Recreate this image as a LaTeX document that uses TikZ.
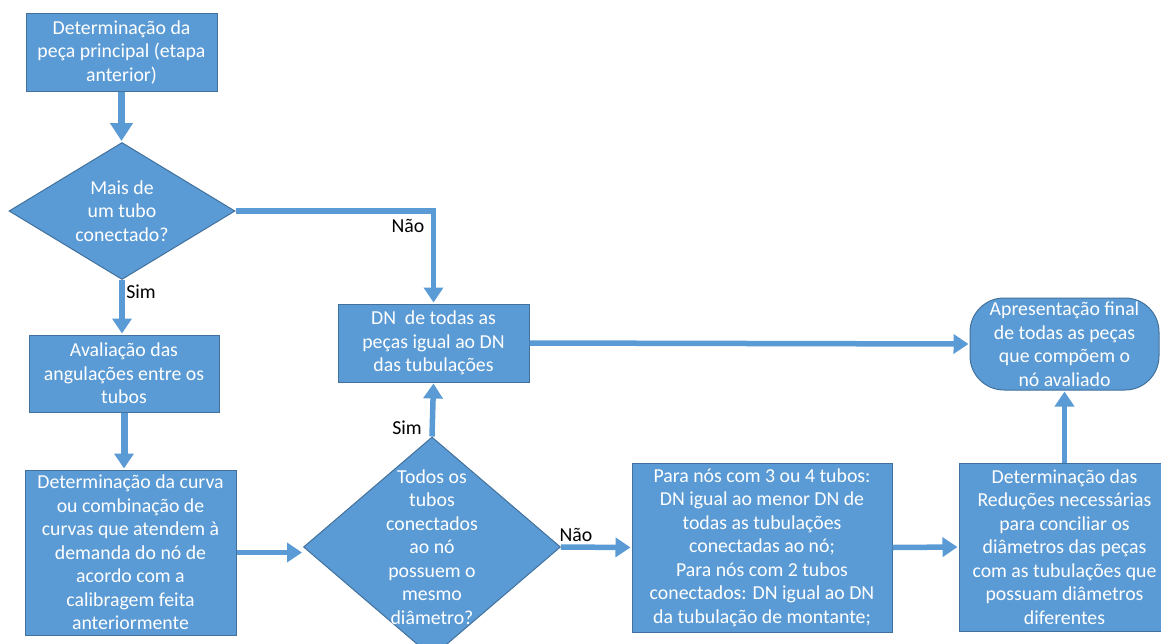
\documentclass[tikz,border=0pt]{standalone}
\usepackage{fontspec}
\setmainfont{Carlito}
\usetikzlibrary{shapes.geometric,arrows.meta,calc}
\definecolor{fillblue}{HTML}{5B9BD5}
\definecolor{edgeblue}{HTML}{41719C}
\begin{document}
\begin{tikzpicture}[x=1pt,y=-1pt,
  txt/.style={font=\fontsize{19.8}{23.5}\selectfont},
  box/.style={txt, draw=edgeblue, line width=1pt, fill=fillblue, text=white,
    align=center, inner sep=0pt},
  dia/.style={shape=diamond, draw=edgeblue, line width=1pt, fill=fillblue, inner sep=0pt},
  diatext/.style={txt, text=white, align=center, inner sep=0pt},
  term/.style={box, rounded corners=34pt},
  lbl/.style={txt, text=black, inner sep=0pt},
  conn/.style={draw=fillblue, line width=5.5pt,
    -{Triangle[width=19pt,length=15pt]}, shorten >=1pt}
]
\useasboundingbox (0,0) rectangle (1161,643);
\clip (0,0) rectangle (1161,643);

% nodes
\node[box, minimum width=191pt, minimum height=78pt] (b1) at (121.5,52)
  {Determinação da\\peça principal (etapa\\anterior)};
\node[dia, minimum width=226pt, minimum height=137pt] (d1) at (122,211) {};
\node[diatext] (d1t) at (d1.center) {Mais de\\um tubo\\conectado?};
\node[box, minimum width=190pt, minimum height=77pt] (b3) at (124,373.5)
  {Avaliação das\\angulações entre os\\tubos};
\node[box, minimum width=211pt, minimum height=165pt] (b4) at (130.5,552.5)
  {Determinação da curva\\ou combinação de\\curvas que atendem à\\demanda do nó de\\acordo com a\\calibragem feita\\anteriormente};
\node[dia, minimum width=257pt, minimum height=220pt] (d2) at (432,547) {};
\node[diatext] (d2t) at (d2.center) {Todos os\\tubos\\conectados\\ao nó\\possuem o\\mesmo\\diâmetro?};
\node[box, minimum width=191pt, minimum height=78pt] (dn) at (433.5,343)
  {DN\ \ de todas as\\peças igual ao DN\\das tubulações};
\node[box, minimum width=260pt, minimum height=169pt] (para) at (762,547.5)
  {Para nós com 3 ou 4 tubos:\\DN igual ao menor DN de\\todas as tubulações\\conectadas ao nó;\\Para nós com 2 tubos\\conectados: DN igual ao DN\\da tubulação de montante;};
\node[box, minimum width=211pt, minimum height=168pt] (red) at (1064.5,547)
  {Determinação das\\Reduções necessárias\\para conciliar os\\diâmetros das peças\\com as tubulações que\\possuam diâmetros\\diferentes};
\node[term, minimum width=189pt, minimum height=92pt] (fin) at (1064.5,344)
  {Apresentação final\\de todas as peças\\que compõem o\\nó avaliado};

% labels
\node[lbl] (nao1) at (408,226) {Não};
\node[lbl] (sim1) at (141,292) {Sim};
\node[lbl] (sim2) at (407,428) {Sim};
\node[lbl] (nao2) at (576,535) {Não};

% connectors
\draw[conn, line width=7pt, -{Triangle[width=22pt,length=18pt]}] (b1.south) -- (b1.south |- d1.north);
\draw[conn] (d1.east) -- (d1.east -| dn.north) -- (dn.north);
\draw[conn] (d1.south) -- (d1.south |- b3.north);
\draw[conn, line width=7pt] (b3.south) -- (b3.south |- b4.north);
\draw[conn] (b4.east) -- (b4.east -| d2.west);
\draw[conn] (d2.north) -- (dn.south);
\draw[conn] (d2.east) -- (para.west);
\draw[conn] (para.east) -- (red.west);
\draw[conn] (dn.east) -- (fin.west);
\draw[conn] (red.north) -- (fin.south);
\end{tikzpicture}
\end{document}
